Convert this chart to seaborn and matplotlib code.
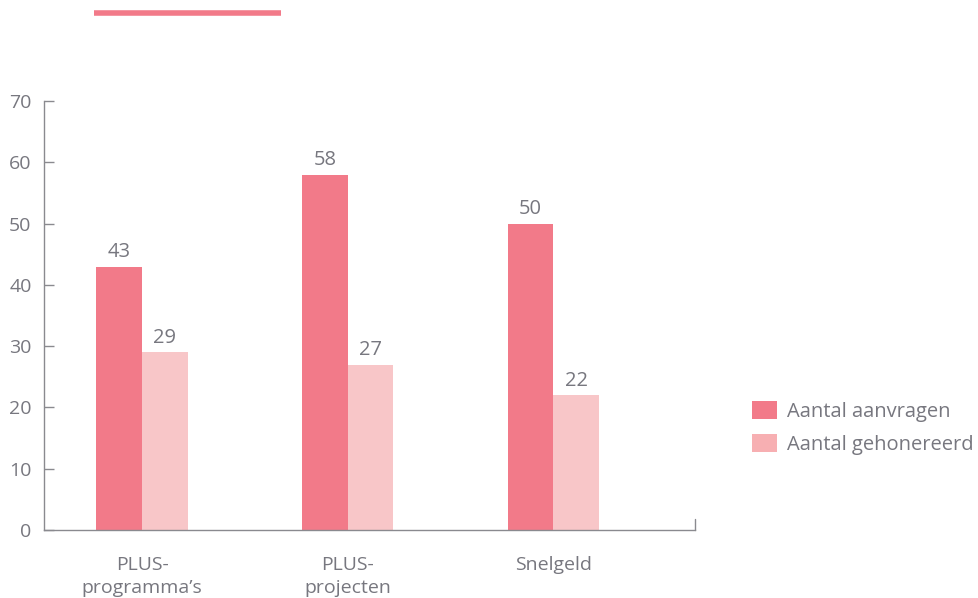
import matplotlib
matplotlib.use("Agg")
import matplotlib.pyplot as plt
import seaborn as sns
import pandas as pd
from matplotlib.patches import Patch
from matplotlib.lines import Line2D

categories = ["PLUS-\nprogramma\u2019s", "PLUS-\nprojecten", "Snelgeld"]
series_names = ["Aantal aanvragen", "Aantal gehonereerd"]
aanvragen = [43, 58, 50]
gehonereerd = [29, 27, 22]
y_ticks = [0, 10, 20, 30, 40, 50, 60, 70]

dark = "#F27A89"
light = "#F8C6C8"
legend_light = "#F7AFB2"
text_col = "#77777F"
axis_col = "#8A8A8F"

rows = []
for c, a, g in zip(categories, aanvragen, gehonereerd):
    rows.append({"cat": c, "serie": series_names[0], "val": a})
    rows.append({"cat": c, "serie": series_names[1], "val": g})
df = pd.DataFrame(rows)

sns.set_theme(style="white")
plt.rcParams["font.family"] = ["Open Sans", "DejaVu Sans"]

fig = plt.figure(figsize=(9.79, 5.98), dpi=100)
ax = fig.add_axes([0.045, 0.1137, 0.665, 0.7173])

sns.barplot(data=df, x="cat", y="val", hue="serie", order=categories,
            hue_order=series_names, palette=[dark, light], saturation=1,
            width=0.445, gap=0, ax=ax, legend=False, errorbar=None,
            linewidth=0)

for cont in ax.containers:
    ax.bar_label(cont, fmt="%d", padding=3, fontsize=14.5, color=text_col)

ax.set_xlim(-0.477, 2.69)
ax.set_ylim(0, 70)
ax.set_yticks(y_ticks)
ax.set_xlabel("")
ax.set_ylabel("")
ax.tick_params(axis="x", bottom=False, length=0, labelsize=14, colors=text_col, pad=19)
ax.tick_params(axis="y", left=True, direction="in", length=7.5, width=1.0, color=axis_col,
               labelsize=14, labelcolor=text_col, pad=9)
for lbl in ax.get_xticklabels():
    lbl.set_linespacing(1.3)
    lbl.set_verticalalignment("top")
for s in ["top", "right"]:
    ax.spines[s].set_visible(False)
for s in ["left", "bottom"]:
    ax.spines[s].set_color(axis_col)
    ax.spines[s].set_linewidth(1.0)

# small end cap at right end of x axis
ax.plot([1, 1], [0, 0.025], transform=ax.transAxes, color=axis_col, lw=1.0, clip_on=False)

# decorative top line
fig.add_artist(Line2D([94 / 979, 281 / 979], [1 - 12.5 / 598, 1 - 12.5 / 598],
                      color=dark, lw=4, solid_capstyle="butt"))

handles = [Patch(facecolor=dark, edgecolor="none"),
           Patch(facecolor=legend_light, edgecolor="none")]
leg = fig.legend(handles, series_names, loc="upper left",
                 bbox_to_anchor=(744 / 979, 1 - 393 / 598), frameon=False,
                 fontsize=14.5, handlelength=1.25, handleheight=1.0,
                 handletextpad=0.5, labelspacing=0.6, borderaxespad=0)
for t in leg.get_texts():
    t.set_color(text_col)

fig.savefig("out.png", dpi=100)
